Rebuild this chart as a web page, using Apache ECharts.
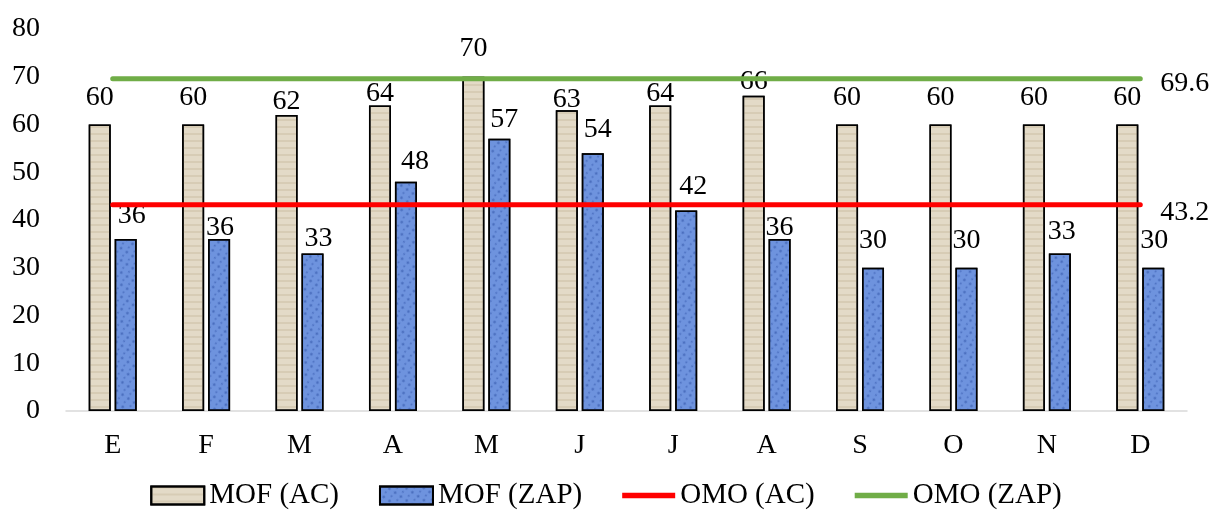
<!DOCTYPE html>
<html><head><meta charset="utf-8">
<script src="https://cdn.jsdelivr.net/npm/echarts@6/dist/echarts.min.js"></script>
<style>html,body{margin:0;padding:0;background:#fff}#c{width:1212px;height:517px}</style>
</head><body><div id="c"></div>
<script>
const categories = ['E','F','M','A','M','J','J','A','S','O','N','D'];
const mofAC = [60,60,62,64,70,63,64,66,60,60,60,60];
const mofZAP = [36,36,33,48,57,54,42,36,30,30,33,30];
const omoAC = [43.2,43.2,43.2,43.2,43.2,43.2,43.2,43.2,43.2,43.2,43.2,43.2];
const omoZAP = [69.6,69.6,69.6,69.6,69.6,69.6,69.6,69.6,69.6,69.6,69.6,69.6];
const seriesNames = ['MOF (AC)','MOF (ZAP)','OMO (AC)','OMO (ZAP)'];

// label placement (pixels) – style only, kept apart from the values
const acLabelGap = [18,18,4,3,19,2,3,5,18,18,18,18];
const zapLabelGap = [14,2,6,11,10,15,15,2,18,18,13,18];
const zapLabelShift = [6,1,6,9,5,5,7,0,0,0,2,1];

const FONT = 'Liberation Serif';
const FS = 28;
const chart = echarts.init(document.getElementById('c'), null, {renderer:'canvas'});

const acData = mofAC.map((v, i) => ({value: v, label: {offset: [0, -(acLabelGap[i] - 5)]}}));
const zapData = mofZAP.map((v, i) => ({value: v, label: {offset: [zapLabelShift[i], -(zapLabelGap[i] - 5)]}}));
const endLbl = dy => ({show: true, distance: 20, offset: [0, dy], fontFamily: FONT, fontSize: FS, color: '#000', formatter: p => String(p.value)});
const lineIcon = 'path://M0,0H100V10H0Z';

chart.setOption({
  animation: false,
  textStyle: {fontFamily: FONT},
  grid: {left: 66, right: 25, top: 29, bottom: 106},
  legend: {
    bottom: 2, left: 'center', itemWidth: 53, itemHeight: 18, itemGap: 40,
    textStyle: {fontFamily: FONT, fontSize: 29, color: '#000'},
    data: [
      {name: seriesNames[0], icon: 'rect'},
      {name: seriesNames[1], icon: 'rect'},
      {name: seriesNames[2], icon: lineIcon, itemStyle: {color: '#ff0000', borderWidth: 0}},
      {name: seriesNames[3], icon: lineIcon, itemStyle: {color: '#70ad47', borderWidth: 0}}
    ]
  },
  xAxis: {
    type: 'category', data: categories,
    axisLine: {lineStyle: {color: '#d9d9d9', width: 1.5}},
    axisTick: {show: false},
    axisLabel: {fontFamily: FONT, fontSize: FS, color: '#000', margin: 21}
  },
  yAxis: {
    type: 'value', min: 0, max: 80, interval: 10,
    axisLine: {show: false}, axisTick: {show: false},
    splitLine: {show: false},
    axisLabel: {fontFamily: FONT, fontSize: FS, color: '#000', margin: 26}
  },
  series: [
    {
      name: seriesNames[0], type: 'bar', data: acData, barWidth: 22, barGap: '18%',
      itemStyle: {
        color: '#e3dac7', borderColor: '#000', borderWidth: 1.5,
        decal: {symbol: 'rect', symbolSize: 1, color: 'rgba(160,140,100,0.18)', dashArrayX: [1, 0], dashArrayY: [2, 5], rotation: 0}
      },
      label: {show: true, position: 'top', distance: 0, fontFamily: FONT, fontSize: FS, color: '#000'}
    },
    {
      name: seriesNames[1], type: 'bar', data: zapData, barWidth: 22,
      itemStyle: {
        color: '#6e93de', borderColor: '#000', borderWidth: 1.5,
        decal: {symbol: 'circle', symbolSize: 0.9, color: 'rgba(30,65,150,0.45)', dashArrayX: [[4, 3], [2, 5]], dashArrayY: [3, 2], rotation: 0.6}
      },
      label: {show: true, position: 'top', distance: 0, fontFamily: FONT, fontSize: FS, color: '#000'}
    },
    {
      name: seriesNames[2], type: 'line', data: omoAC, symbol: 'none',
      lineStyle: {color: '#ff0000', width: 5, cap: 'round'}, itemStyle: {color: '#ff0000'},
      endLabel: endLbl(8), z: 5
    },
    {
      name: seriesNames[3], type: 'line', data: omoZAP, symbol: 'none',
      lineStyle: {color: '#70ad47', width: 5, cap: 'round'}, itemStyle: {color: '#70ad47'},
      endLabel: endLbl(5), z: 5
    }
  ]
});
</script></body></html>
